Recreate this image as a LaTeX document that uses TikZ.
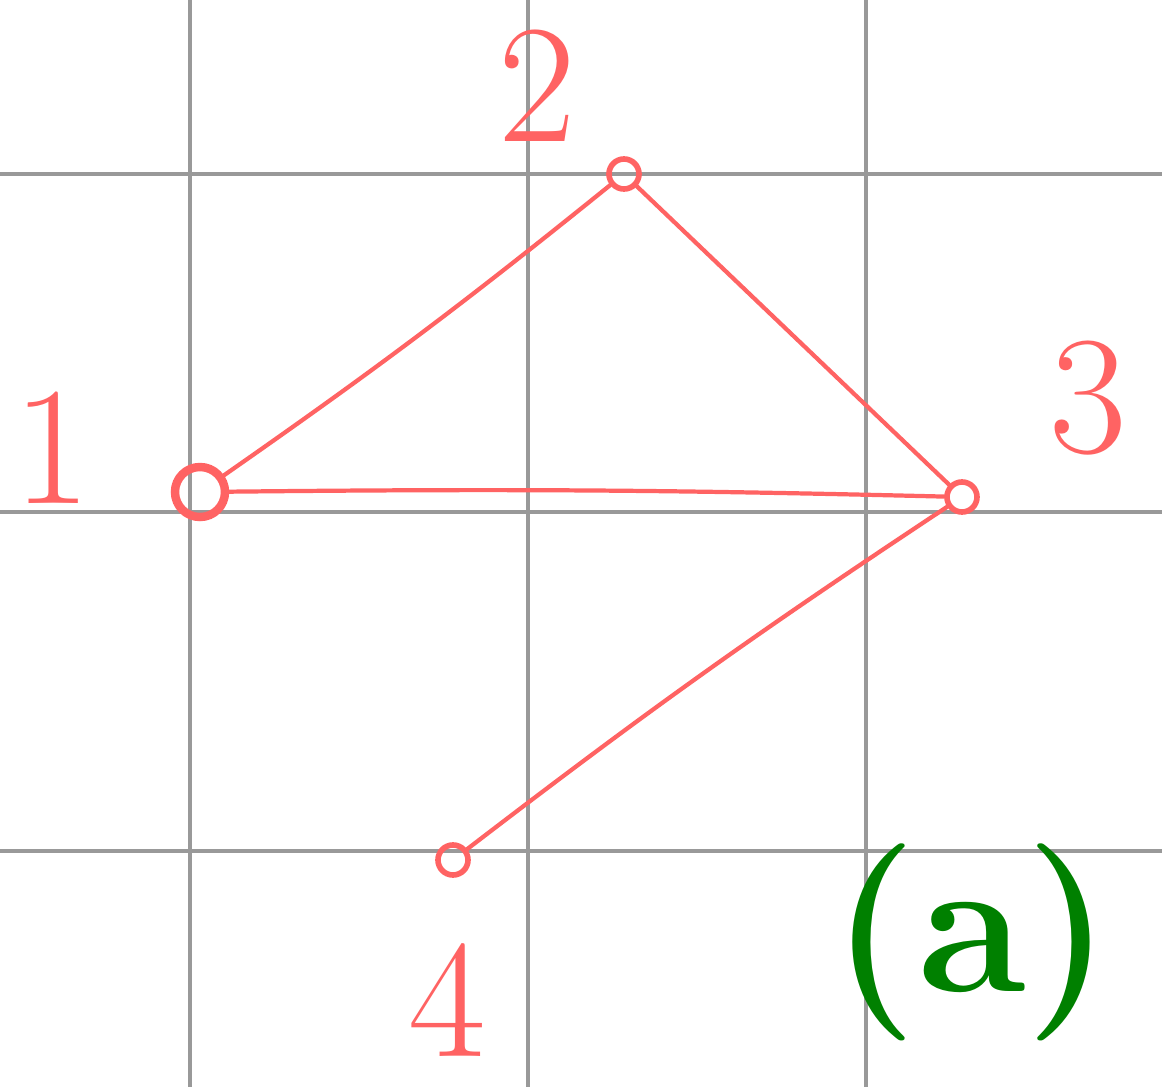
\documentclass[tikz,border=0pt]{standalone}
\definecolor{pen}{HTML}{FF6363}
\definecolor{gridc}{HTML}{999999}
\definecolor{grn}{HTML}{008000}
\begin{document}
\begin{tikzpicture}[x=0.01cm,y=-0.01cm,
  gridline/.style={draw=gridc,line width=0.9pt},
  vtx/.style={circle,draw=pen,line width=1.6pt,minimum size=0.3cm,inner sep=0pt},
  edge/.style={draw=pen,line width=1.2pt,line cap=round},
  lbl/.style={text=pen,inner sep=0pt,font=\fontsize{48}{48}\selectfont}]
\useasboundingbox (0,0) rectangle (1162,1087);
\fill[white] (0,0) rectangle (1162,1087);
\foreach \x in {190,528,866} \draw[gridline] (\x,0) -- (\x,1087);
\foreach \y in {174,512,851} \draw[gridline] (0,\y) -- (1162,\y);
\node[vtx,minimum size=0.5cm,line width=2.4pt] (n1) at (200,492) {};
\node[vtx] (n2) at (624,174) {};
\node[vtx] (n3) at (962,497) {};
\node[vtx] (n4) at (453,860) {};
\draw[edge] (n1) to[bend right=2] (n2);
\draw[edge] (n2) -- (n3);
\draw[edge] (n1) to[bend left=1] (n3);
\draw[edge] (n3) to[bend right=2] (n4);
\node[lbl] (l1) at (52,448) {1};
\node[lbl] (l2) at (537,86) {2};
\node[lbl] (l3) at (1088,398) {3};
\node[lbl] (l4) at (447,1000) {4};
\node[text=grn,font=\fontsize{56}{56}\selectfont\bfseries] (la) at (972,942) {(a)};
\end{tikzpicture}
\end{document}
